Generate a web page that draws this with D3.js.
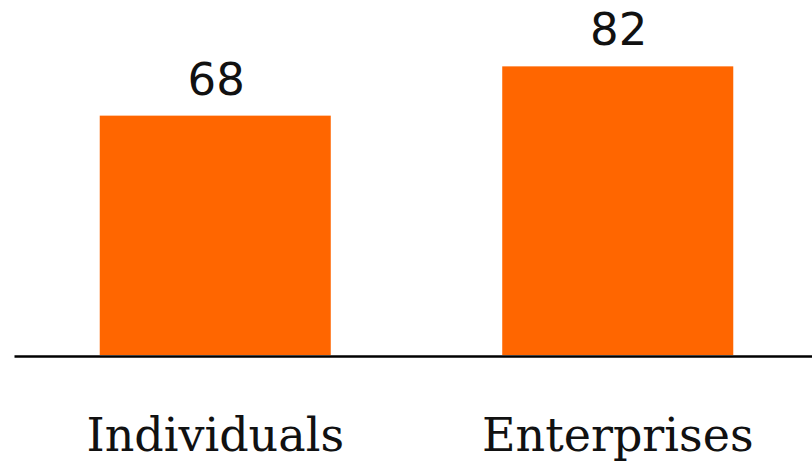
<!DOCTYPE html>
<html>
<head>
<meta charset="utf-8">
<script src="https://cdn.jsdelivr.net/npm/d3@7"></script>
<style>
  html, body { margin: 0; padding: 0; background: #fff; }
  svg { display: block; }
</style>
</head>
<body>
<svg id="chart" width="812" height="462"></svg>
<script>
// Chart data
const categories = ["Individuals", "Enterprises"];
const values = [68, 82];

const svg = d3.select("#chart");

const x = d3.scaleBand()
  .domain(categories)
  .range([14, 819])
  .paddingInner(0.426)
  .paddingOuter(0.213);

const y = d3.scaleLinear()
  .domain([0, 100])
  .range([355, 3]);

// Bars
svg.selectAll("rect.bar")
  .data(categories)
  .join("rect")
  .attr("class", "bar")
  .attr("x", d => x(d))
  .attr("width", x.bandwidth())
  .attr("y", (d, i) => y(values[i]))
  .attr("height", (d, i) => y(0) - y(values[i]))
  .attr("fill", "#ff6600");

// Value labels above bars
svg.selectAll("text.value")
  .data(categories)
  .join("text")
  .attr("class", "value")
  .attr("x", d => x(d) + x.bandwidth() / 2 + 1)
  .attr("y", (d, i) => y(values[i]) - 21)
  .attr("text-anchor", "middle")
  .attr("font-family", "DejaVu Sans, sans-serif")
  .attr("font-size", 45)
  .attr("fill", "#111")
  .text((d, i) => values[i]);

// Baseline axis
const axis = svg.append("g")
  .attr("transform", `translate(0,${y(0) + 1})`)
  .call(d3.axisBottom(x).tickSize(0).tickPadding(62));

axis.select(".domain")
  .attr("stroke", "#000")
  .attr("stroke-width", 2.7);

axis.selectAll(".tick text")
  .attr("font-family", "DejaVu Serif, serif")
  .attr("font-size", 46)
  .attr("fill", "#111");
</script>
</body>
</html>
